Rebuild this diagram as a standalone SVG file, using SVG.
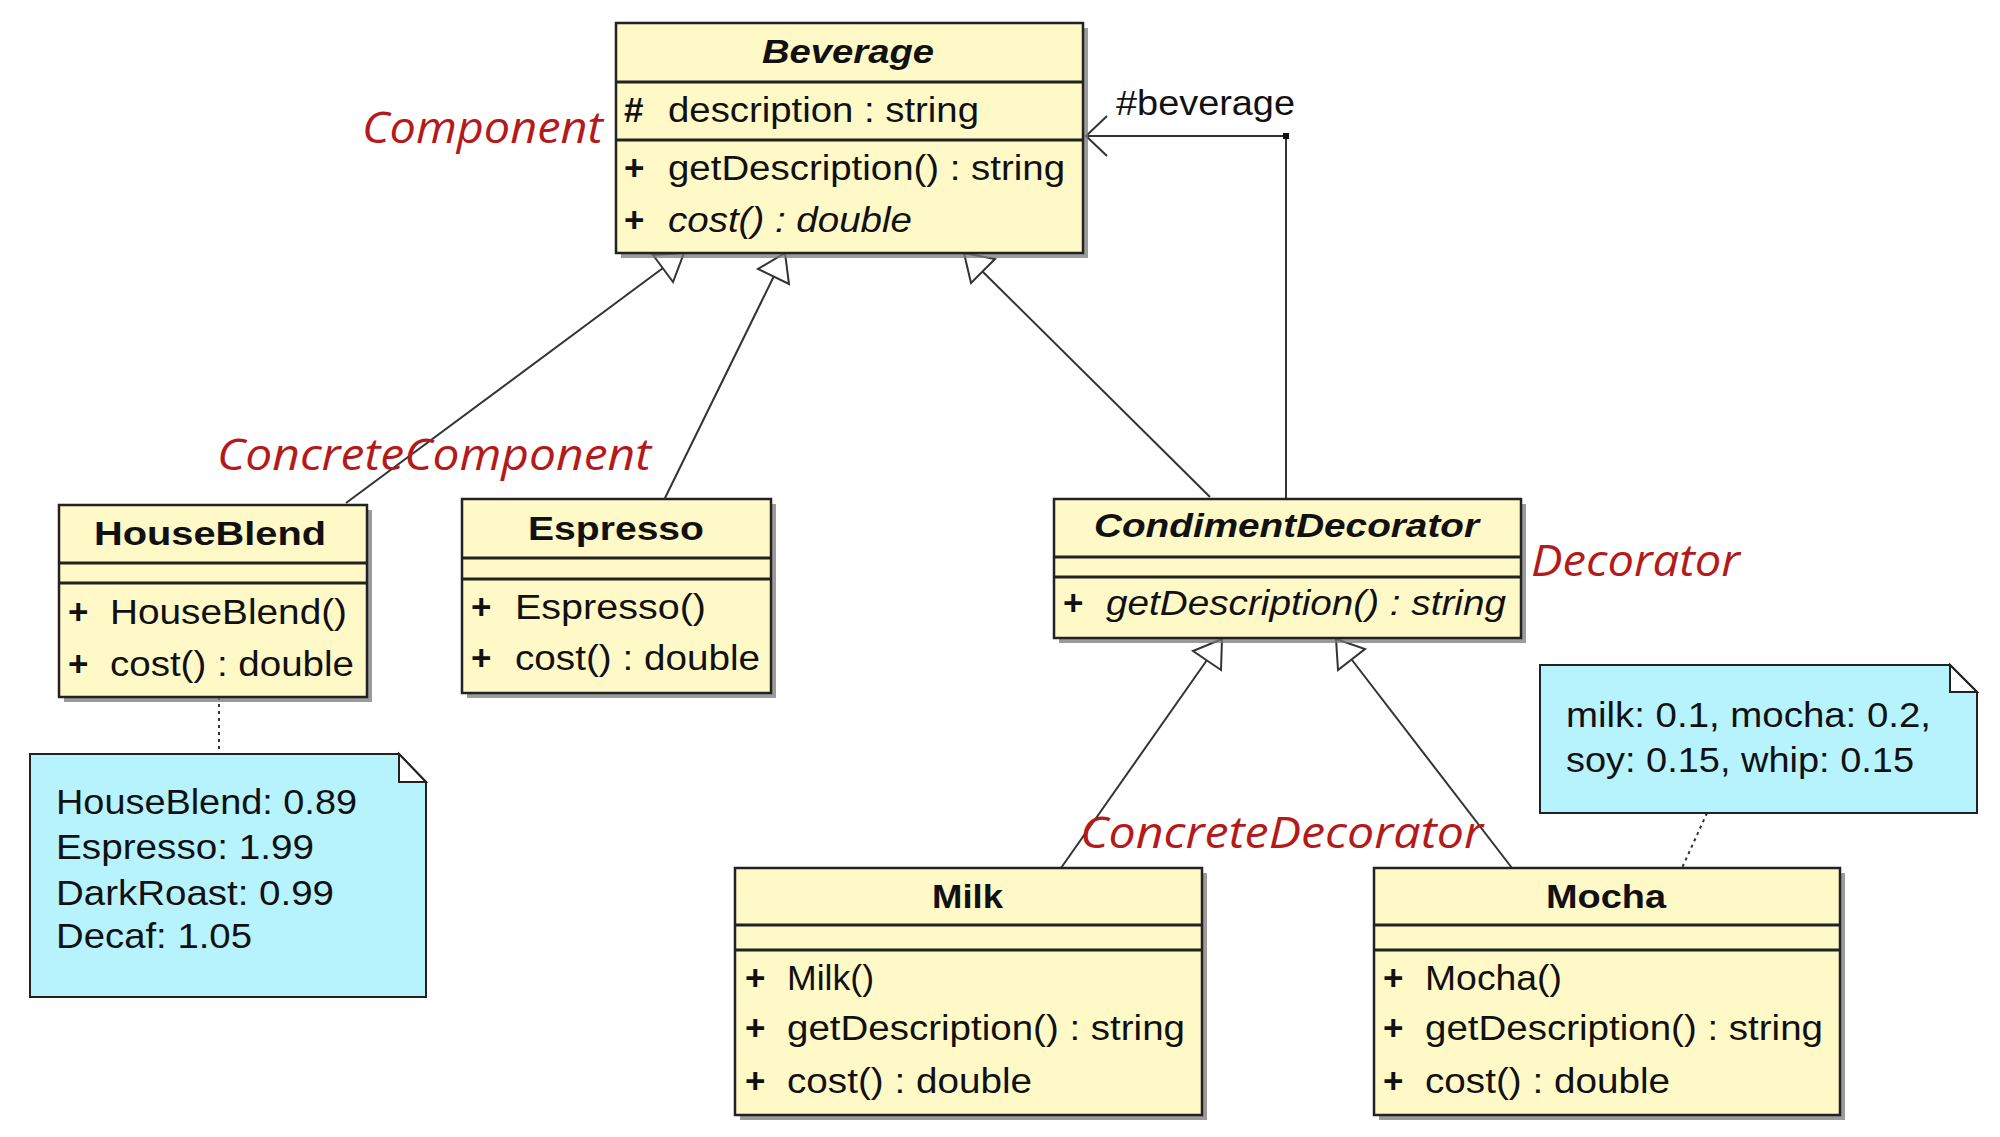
<svg xmlns="http://www.w3.org/2000/svg" width="2000" height="1137" viewBox="0 0 2000 1137">
<style>
.sh{fill:#7a7a7a;opacity:0.75}
.box{fill:#FFF9C8;stroke:#222;stroke-width:2.5}
.sep{stroke:#222;stroke-width:3}
.t{font-family:"Liberation Sans",Arial,sans-serif;font-size:35px;fill:#111}
.ti{font-family:"Liberation Sans",Arial,sans-serif;font-size:33px;font-weight:bold;fill:#111}
.b{font-weight:bold}
.i{font-style:italic}
.lbl{font-family:"Open Sans","Noto Sans",sans-serif;font-style:italic;font-size:44px;fill:#B51A1A}
.con{stroke:#333;stroke-width:2;fill:none}
.tri{fill:#fff;stroke:#333;stroke-width:2}
.dot{stroke:#333;stroke-width:2;stroke-dasharray:3 4;fill:none}
.note{fill:#B7F3FD;stroke:#222;stroke-width:2}
</style>
<rect width="2000" height="1137" fill="#fff"/>
<g id="connectors">
<line class="con" x1="346" y1="503" x2="663" y2="268"/>
<polygon class="tri" points="684,253 673,282 653,255"/>
<line class="con" x1="665" y1="498" x2="774" y2="276"/>
<polygon class="tri" points="785,253 789,284 758,269"/>
<line class="con" x1="1210" y1="497" x2="982" y2="271"/>
<polygon class="tri" points="964,253 995,259 971,283"/>
<line class="con" x1="1061" y1="868" x2="1207" y2="660"/>
<polygon class="tri" points="1222,639 1221,670 1193,651"/>
<line class="con" x1="1512" y1="868" x2="1352" y2="660"/>
<polygon class="tri" points="1336,639 1365,649 1338,670"/>
<polyline class="con" points="1286,499 1286,136 1086,136"/>
<polyline class="con" points="1107,116 1086,136 1107,156"/>
<rect x="1283" y="133" width="6" height="6" fill="#111"/>
<line class="dot" x1="219" y1="697" x2="219" y2="754"/>
<line class="dot" x1="1707" y1="813" x2="1682" y2="868"/>
</g>
<g id="Beverage">
<rect class="sh" x="621" y="28" width="467" height="230"/>
<rect class="box" x="616" y="23" width="467" height="230"/>
<line class="sep" x1="616" y1="82" x2="1083" y2="82"/>
<line class="sep" x1="616" y1="140" x2="1083" y2="140"/>
<text class="ti i" x="762" y="63" textLength="172" lengthAdjust="spacingAndGlyphs">Beverage</text>
<text class="t b" x="624" y="122">#</text>
<text class="t" x="668" y="122" textLength="311" lengthAdjust="spacingAndGlyphs">description : string</text>
<text class="t b" x="624" y="180">+</text>
<text class="t" x="668" y="180" textLength="397" lengthAdjust="spacingAndGlyphs">getDescription() : string</text>
<text class="t b" x="624" y="232">+</text>
<text class="t i" x="668" y="232" textLength="244" lengthAdjust="spacingAndGlyphs">cost() : double</text>
</g>
<g id="beverage-label">
<text class="t" x="1116" y="115" textLength="179" lengthAdjust="spacingAndGlyphs">#beverage</text>
</g>
<g id="HouseBlend">
<rect class="sh" x="64" y="510" width="308" height="192"/>
<rect class="box" x="59" y="505" width="308" height="192"/>
<line class="sep" x1="59" y1="563" x2="367" y2="563"/>
<line class="sep" x1="59" y1="583" x2="367" y2="583"/>
<text class="ti" x="94" y="545" textLength="232" lengthAdjust="spacingAndGlyphs">HouseBlend</text>
<text class="t b" x="68" y="624">+</text>
<text class="t" x="110" y="624" textLength="237" lengthAdjust="spacingAndGlyphs">HouseBlend()</text>
<text class="t b" x="68" y="676">+</text>
<text class="t" x="110" y="676" textLength="244" lengthAdjust="spacingAndGlyphs">cost() : double</text>
</g>
<g id="Espresso">
<rect class="sh" x="467" y="504" width="309" height="194"/>
<rect class="box" x="462" y="499" width="309" height="194"/>
<line class="sep" x1="462" y1="558" x2="771" y2="558"/>
<line class="sep" x1="462" y1="579" x2="771" y2="579"/>
<text class="ti" x="528" y="540" textLength="176" lengthAdjust="spacingAndGlyphs">Espresso</text>
<text class="t b" x="471" y="619">+</text>
<text class="t" x="515" y="619" textLength="191" lengthAdjust="spacingAndGlyphs">Espresso()</text>
<text class="t b" x="471" y="670">+</text>
<text class="t" x="515" y="670" textLength="245" lengthAdjust="spacingAndGlyphs">cost() : double</text>
</g>
<g id="CondimentDecorator">
<rect class="sh" x="1059" y="504" width="467" height="139"/>
<rect class="box" x="1054" y="499" width="467" height="139"/>
<line class="sep" x1="1054" y1="557" x2="1521" y2="557"/>
<line class="sep" x1="1054" y1="577" x2="1521" y2="577"/>
<text class="ti i" x="1094" y="537" textLength="385" lengthAdjust="spacingAndGlyphs">CondimentDecorator</text>
<text class="t b" x="1063" y="615">+</text>
<text class="t i" x="1106" y="615" textLength="400" lengthAdjust="spacingAndGlyphs">getDescription() : string</text>
</g>
<g id="Milk">
<rect class="sh" x="740" y="873" width="467" height="247"/>
<rect class="box" x="735" y="868" width="467" height="247"/>
<line class="sep" x1="735" y1="925" x2="1202" y2="925"/>
<line class="sep" x1="735" y1="950" x2="1202" y2="950"/>
<text class="ti" x="932" y="908" textLength="71" lengthAdjust="spacingAndGlyphs">Milk</text>
<text class="t b" x="745" y="990">+</text>
<text class="t" x="787" y="990" textLength="87" lengthAdjust="spacingAndGlyphs">Milk()</text>
<text class="t b" x="745" y="1040">+</text>
<text class="t" x="787" y="1040" textLength="398" lengthAdjust="spacingAndGlyphs">getDescription() : string</text>
<text class="t b" x="745" y="1093">+</text>
<text class="t" x="787" y="1093" textLength="245" lengthAdjust="spacingAndGlyphs">cost() : double</text>
</g>
<g id="Mocha">
<rect class="sh" x="1379" y="873" width="466" height="247"/>
<rect class="box" x="1374" y="868" width="466" height="247"/>
<line class="sep" x1="1374" y1="925" x2="1840" y2="925"/>
<line class="sep" x1="1374" y1="950" x2="1840" y2="950"/>
<text class="ti" x="1546" y="908" textLength="120" lengthAdjust="spacingAndGlyphs">Mocha</text>
<text class="t b" x="1383" y="990">+</text>
<text class="t" x="1425" y="990" textLength="137" lengthAdjust="spacingAndGlyphs">Mocha()</text>
<text class="t b" x="1383" y="1040">+</text>
<text class="t" x="1425" y="1040" textLength="398" lengthAdjust="spacingAndGlyphs">getDescription() : string</text>
<text class="t b" x="1383" y="1093">+</text>
<text class="t" x="1425" y="1093" textLength="245" lengthAdjust="spacingAndGlyphs">cost() : double</text>
</g>
<g id="note-prices">
<path class="note" d="M30,754 H399 L426,782 V997 H30 Z"/>
<path d="M399,754 V782 H426 Z" fill="#fff" stroke="#222" stroke-width="2"/>
<text class="t" x="56" y="814" textLength="301" lengthAdjust="spacingAndGlyphs">HouseBlend: 0.89</text>
<text class="t" x="56" y="859" textLength="258" lengthAdjust="spacingAndGlyphs">Espresso: 1.99</text>
<text class="t" x="56" y="905" textLength="278" lengthAdjust="spacingAndGlyphs">DarkRoast: 0.99</text>
<text class="t" x="56" y="948" textLength="196" lengthAdjust="spacingAndGlyphs">Decaf: 1.05</text>
</g>
<g id="note-condiments">
<path class="note" d="M1540,665 H1950 L1977,692 V813 H1540 Z"/>
<path d="M1950,665 V692 H1977 Z" fill="#fff" stroke="#222" stroke-width="2"/>
<text class="t" x="1566" y="727" textLength="365" lengthAdjust="spacingAndGlyphs">milk: 0.1, mocha: 0.2,</text>
<text class="t" x="1566" y="772" textLength="348" lengthAdjust="spacingAndGlyphs">soy: 0.15, whip: 0.15</text>
</g>
<g id="labels">
<text class="lbl" x="362" y="143" textLength="241" lengthAdjust="spacingAndGlyphs">Component</text>
<text class="lbl" x="217" y="470" textLength="434" lengthAdjust="spacingAndGlyphs">ConcreteComponent</text>
<text class="lbl" x="1531" y="576" textLength="209" lengthAdjust="spacingAndGlyphs">Decorator</text>
<text class="lbl" x="1080" y="848" textLength="403" lengthAdjust="spacingAndGlyphs">ConcreteDecorator</text>
</g>
</svg>
